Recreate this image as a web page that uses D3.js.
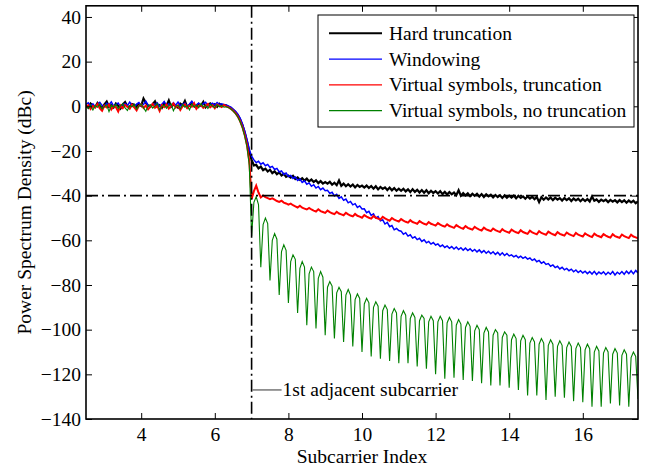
<!DOCTYPE html>
<html>
<head>
<meta charset="utf-8">
<script src="https://cdn.jsdelivr.net/npm/d3@7"></script>
<style>
  html, body { margin: 0; padding: 0; background: #fff; }
  svg { display: block; font-family: "Liberation Serif", "Times New Roman", Times, serif; }
</style>
</head>
<body>
<svg id="chart" width="651" height="468"></svg>
<script>
// Subcarrier grid shared by the sampled spectra (index = gridStart + i * gridStep)
const gridStart = 2.5;
const gridStep = 0.0625;

// PSD (dBc) — hard truncation
const hardTruncation = [
  0.4, -0.6, 1.2, 0.1, -0.3, 1.5, 0.2, -0.8, 0.9, 2.1,
  -0.2, 0.6, -0.5, 1.3, 0.3, -1.0, 0.8, 1.9, 0.0, -0.4,
  1.0, 0.7, -0.3, 1.1, 0.2, 3.5, 1.6, 0.4, -0.2, 0.9,
  2.2, -0.1, 0.5, -0.7, 1.4, 0.3, 2.6, -0.2, 0.8, 0.1,
  -0.6, 1.2, 0.4, 2.4, -0.3, 0.6, 1.8, 0.0, -0.5, 1.0,
  0.3, 2.0, -0.4, 0.7, 1.3, 0.1, 0.9, -0.2, 1.1, 0.4,
  0.6,
  0.3, -0.2, -0.7, -1.6, -2.6, -3.9, -5.9, -8.4, -11.8, -15.8, -20.6, -24.0,
  -26.5, -26.2, -27.8, -27.0, -28.6, -27.9, -29.2, -28.4, -29.9, -29.1, -30.4, -29.6, -31.0, -30.2, -31.6, -31.0,
  -31.9, -31.1, -32.5, -31.8, -32.9, -32.2, -33.3, -32.4, -33.6, -32.8, -33.9, -33.1, -34.4, -33.5, -34.6, -33.9,
  -34.6, -33.8, -35.1, -34.2, -35.3, -33.2, -35.6, -34.6, -35.8, -34.9, -35.9, -35.0, -36.3, -35.2, -36.1, -35.5,
  -36.4, -35.5, -36.6, -35.7, -36.9, -35.8, -37.2, -36.1, -37.0, -36.3, -37.5, -36.4, -37.6, -36.6, -37.8, -36.9,
  -37.8, -36.9, -38.1, -37.2, -38.4, -37.1, -38.3, -37.4, -38.6, -37.5, -38.7, -37.6, -38.9, -37.8, -38.8, -38.0,
  -39.0, -38.0, -39.3, -38.3, -39.5, -38.4, -39.4, -38.6, -39.8, -37.6, -40.0, -38.9, -39.9, -39.0, -40.2, -39.2,
  -40.1, -39.2, -40.4, -39.3, -40.6, -39.4, -40.3, -39.6, -40.8, -39.7, -40.6, -39.8, -41.0, -39.9, -40.9, -40.0,
  -40.9, -40.0, -41.2, -40.1, -41.0, -40.3, -41.4, -40.4, -41.3, -40.5, -41.6, -40.6, -42.9, -40.7, -41.8, -40.8,
  -41.7, -40.8, -42.0, -40.9, -41.8, -41.1, -42.2, -41.1, -42.0, -41.2, -42.4, -41.3, -42.1, -41.4, -42.5, -41.5,
  -42.4, -41.5, -42.6, -40.4, -42.3, -41.7, -42.8, -41.8, -42.5, -41.8, -42.9, -41.9, -42.7, -42.0, -43.0, -42.0,
  -42.9, -42.1, -43.2, -42.2, -43.0, -42.3, -43.4, -42.6
];

// PSD (dBc) — windowing
const windowing = [
  0.8, 1.6, 0.2, 1.1, -0.3, 0.9, 1.8, 0.4, -0.2, 1.3,
  0.6, 2.0, 0.1, 0.8, 1.5, -0.1, 0.7, 1.2, 0.3, 1.9,
  0.5, -0.4, 1.0, 1.7, 0.2, 0.8, 2.3, 0.4, -0.1, 1.2,
  0.6, 1.5, 0.0, 0.9, 2.1, 0.3, 1.1, -0.2, 1.6, 0.5,
  1.9, 0.2, 0.8, 1.4, -0.1, 1.0, 2.2, 0.4, 0.7, 1.5,
  0.1, 1.2, 1.8, 0.3, 0.9, 1.4, 0.6, 1.7, 0.8, 1.1,
  0.7,
  0.6, 0.1, -0.4, -1.3, -2.2, -3.5, -5.3, -7.8, -11.0, -14.9, -19.2, -22.3,
  -24.0, -25.2, -24.6, -25.9, -25.3, -26.6, -26.0, -27.4, -26.9, -28.3, -27.8, -29.4, -28.9, -30.5, -29.9, -31.4,
  -30.9, -32.3, -31.7, -33.2, -32.6, -34.1, -33.4, -34.9, -34.3, -35.8, -35.1, -36.6, -35.9, -37.3, -36.6, -37.8,
  -37.6, -39.0, -38.5, -40.1, -39.4, -41.2, -40.5, -42.1, -41.5, -43.2, -42.6, -44.1, -43.6, -45.3, -44.6, -46.0,
  -45.9, -47.6, -47.0, -48.8, -48.1, -50.0, -49.4, -51.3, -50.8, -52.7, -52.0, -53.9, -53.4, -55.3, -54.7, -55.6,
  -55.9, -57.3, -56.6, -58.1, -57.5, -59.0, -58.4, -59.7, -59.1, -60.5, -59.8, -61.1, -60.5, -61.7, -61.0, -62.1,
  -61.6, -62.8, -62.1, -63.2, -62.5, -63.6, -62.8, -63.9, -63.0, -64.1, -63.3, -64.4, -63.5, -64.6, -63.8, -64.9,
  -64.1, -65.2, -64.3, -65.5, -64.6, -65.8, -64.9, -66.0, -65.1, -66.3, -65.4, -66.6, -65.6, -66.8, -65.9, -67.0,
  -66.5, -67.4, -66.8, -67.8, -67.1, -68.1, -67.4, -68.4, -67.9, -69.0, -68.4, -69.6, -69.0, -70.3, -69.6, -70.8,
  -70.4, -71.6, -71.0, -72.2, -71.6, -72.8, -72.1, -73.2, -72.6, -73.6, -72.9, -74.1, -73.3, -74.4, -73.6, -74.6,
  -73.8, -74.9, -74.0, -75.1, -73.9, -75.3, -74.2, -75.0, -74.1, -75.4, -74.3, -75.2, -74.0, -75.5, -74.3, -75.1,
  -74.0, -75.2, -73.8, -74.9, -73.6, -75.0, -73.5, -74.6
];

// PSD (dBc) — virtual symbols with truncation
const virtualTruncation = [
  -0.4, 0.5, -1.2, 0.2, -0.6, 1.0, -0.9, -2.0, 0.3, -0.5,
  0.8, -1.4, 0.1, -0.3, -2.3, 0.4, -0.8, 0.6, -0.2, -1.1,
  0.7, -0.5, -1.8, 0.2, 0.9, -0.7, 0.3, -1.3, -0.1, 1.1,
  -0.6, 0.2, -2.1, 0.5, -0.4, 0.8, -1.0, 0.1, 1.3, -0.5,
  0.4, -1.6, 0.0, 0.9, -0.8, 0.3, -0.2, 1.4, -1.1, 0.2,
  0.6, -0.7, 0.1, 1.0, -0.4, 0.5, -0.9, 0.8, 0.2, -0.3,
  0.6,
  0.0, -0.5, -1.1, -2.0, -3.1, -4.6, -6.6, -9.3, -12.8, -17.4, -24.5, -41.5,
  -38.0, -35.5, -38.6, -40.8, -39.9, -40.7, -41.1, -41.6, -41.2, -41.8, -42.4, -42.8, -42.3, -43.1, -43.5, -44.0,
  -43.6, -44.3, -44.8, -45.3, -44.5, -45.4, -45.8, -46.2, -45.5, -46.2, -46.7, -47.1, -46.1, -46.9, -47.3, -47.7,
  -46.7, -47.4, -47.9, -48.3, -47.2, -48.0, -48.4, -48.8, -47.7, -48.4, -48.9, -49.3, -48.2, -49.0, -49.4, -49.9,
  -48.7, -49.4, -49.9, -50.3, -49.1, -49.9, -50.3, -50.7, -49.5, -50.2, -50.7, -51.2, -50.0, -50.7, -51.2, -51.6,
  -50.5, -51.2, -51.7, -52.1, -51.0, -51.8, -52.2, -52.6, -51.4, -52.1, -52.6, -53.0, -51.8, -52.6, -53.0, -53.4,
  -52.3, -53.0, -53.5, -53.9, -52.8, -53.6, -54.0, -54.4, -53.2, -53.9, -54.4, -54.8, -53.6, -54.4, -54.8, -55.2,
  -54.0, -54.7, -55.2, -55.6, -54.3, -55.1, -55.5, -55.9, -54.7, -55.4, -55.9, -56.3, -55.0, -55.8, -56.2, -56.6,
  -55.2, -55.9, -56.4, -56.8, -55.5, -56.3, -56.7, -57.1, -55.7, -56.4, -56.9, -57.3, -55.9, -56.7, -57.1, -57.5,
  -56.1, -56.8, -57.3, -57.7, -56.3, -57.1, -57.5, -57.9, -56.5, -57.2, -57.7, -58.1, -56.7, -57.5, -57.9, -58.3,
  -56.9, -57.6, -58.1, -58.5, -57.0, -57.8, -58.2, -58.6, -57.2, -57.9, -58.4, -58.8, -57.3, -58.1, -58.5, -58.9,
  -57.4, -58.1, -58.6, -59.0, -57.5, -58.3, -58.7, -59.1
];

// PSD (dBc) — virtual symbols without truncation: in-band part up to subcarrier 7 on the grid
const virtualNoTruncMain = [
  0.2, -0.9, 0.6, -1.7, 0.3, -0.4, 1.1, -1.2, 0.0, 0.7,
  -2.4, 0.5, -0.3, 0.9, -1.0, 0.2, 1.2, -0.7, -1.9, 0.4,
  -0.2, 0.8, -1.3, 0.1, 1.0, -0.6, -2.2, 0.3, 0.7, -0.8,
  0.2, 1.3, -1.5, -0.1, 0.6, -0.9, 0.4, 1.1, -2.0, 0.0,
  0.5, -1.1, 0.8, -0.4, 0.3, -1.6, 1.0, -0.2, 0.6, -0.7,
  1.2, -0.3, 0.4, -1.0, 0.9, 0.1, -0.5, 0.7, -0.2, 0.3,
  -0.4,
  -0.2, -0.6, -1.2, -2.2, -3.3, -4.8, -6.9, -9.6, -13.3, -18.2, -26.5, -58.0
];

// Out-of-band sidelobes: nulls every quarter subcarrier from 7.25 to 17.5
const virtualNoTruncNulls = [
  -72, -78, -84.5, -88, -92.5, -98, -99.5, -102.5, -104, -105.5,
  -107.5, -110, -112, -113, -114, -115, -115, -116.5, -117.5, -120,
  -122, -121.5, -122.5, -123, -124, -125, -125, -126, -127, -129.5,
  -129.5, -131.5, -130, -130.5, -132, -132.5, -134.5, -134.5, -133, -134,
  -134.5, -131
];

// Sidelobe samples between consecutive nulls (rising shoulder, top, falling shoulder)
const virtualNoTruncLobes = [
  [-43, -40.5, -44], [-53, -50, -52.5], [-60, -57, -59.5], [-65, -62, -64.5],
  [-69.5, -66.5, -68.5], [-72.5, -69.5, -72], [-75, -72, -74], [-77, -74, -76.5],
  [-81, -78.5, -80.5], [-83.5, -81, -83], [-84.5, -82, -84.5], [-86.5, -84, -86],
  [-88.5, -86, -88], [-90, -87.5, -89.5], [-91.5, -89, -91], [-93, -90.5, -92.5],
  [-94, -91.5, -93.5], [-95, -92.5, -94.5], [-96, -93.5, -95], [-96.5, -94, -96],
  [-96.5, -94, -96], [-97, -94.5, -96.5], [-98, -95.5, -97.5], [-99, -96.5, -98.5],
  [-100.5, -98, -100], [-101.5, -99, -101], [-102.5, -100, -101.5], [-103.5, -101, -102.5],
  [-104.5, -102, -104], [-105, -102.5, -104.5], [-106, -103.5, -105.5], [-106.5, -104, -106],
  [-107, -104.5, -106.5], [-107.5, -105, -107], [-108, -105.5, -107.5], [-108.5, -106, -108],
  [-109, -106.5, -108.5], [-110, -107.5, -109.5], [-110.5, -108, -110], [-111, -108.5, -110.5],
  [-111.5, -109, -111], [-112.5, -110, -112]
];

const seriesNames = ["Hard truncation", "Windowing", "Virtual symbols, truncation", "Virtual symbols, no truncation"];
const seriesColors = ["#000000", "#0000ff", "#ff0000", "#008000"];
const seriesWidths = [2.2, 1.5, 2.0, 1.1];

const xTicks = [4, 6, 8, 10, 12, 14, 16];
const yTicks = [-140, -120, -100, -80, -60, -40, -20, 0, 20, 40];
const xDomain = [2.5, 17.5];
const yDomain = [-140, 45];

// Marker lines: first adjacent subcarrier edge and the -40 dBc level
const adjacentEdge = 7;
const limitLevel = -40;
const annotation = { x: 7, y: -127, text: "1st adjacent subcarrier" };

const xLabel = "Subcarrier Index";
const yLabel = "Power Spectrum Density (dBc)";

// ---- layout ----
const plot = { left: 86, right: 638, top: 5.8, bottom: 419 };
const fontSize = 19.5;

const svg = d3.select("#chart");
const x = d3.scaleLinear().domain(xDomain).range([plot.left, plot.right]);
const y = d3.scaleLinear().domain(yDomain).range([plot.bottom, plot.top]);

function onGrid(values) {
  return values.map((v, i) => [gridStart + i * gridStep, v]);
}

const noTrunc = onGrid(virtualNoTruncMain);
virtualNoTruncLobes.forEach((lobe, k) => {
  const x0 = adjacentEdge + k * 0.25;
  lobe.forEach((v, j) => noTrunc.push([x0 + (j + 1) * gridStep, v]));
  noTrunc.push([x0 + 0.25, virtualNoTruncNulls[k]]);
});

const series = [
  onGrid(hardTruncation),
  onGrid(windowing),
  onGrid(virtualTruncation),
  noTrunc
];

svg.append("defs").append("clipPath").attr("id", "plot-clip")
  .append("rect")
  .attr("x", plot.left).attr("y", plot.top)
  .attr("width", plot.right - plot.left).attr("height", plot.bottom - plot.top);

const line = d3.line().x(d => x(d[0])).y(d => y(d[1]));

const curves = svg.append("g").attr("clip-path", "url(#plot-clip)");
series.forEach((pts, i) => {
  curves.append("path")
    .datum(pts)
    .attr("d", line)
    .attr("fill", "none")
    .attr("stroke", seriesColors[i])
    .attr("stroke-width", seriesWidths[i])
    .attr("stroke-linejoin", "miter");
});

// dash-dot marker lines
curves.append("line")
  .attr("x1", x(adjacentEdge)).attr("x2", x(adjacentEdge))
  .attr("y1", y(yDomain[1])).attr("y2", y(yDomain[0]))
  .attr("stroke", "#000").attr("stroke-width", 1.6)
  .attr("stroke-dasharray", "12,4,2,4");
curves.append("line")
  .attr("x1", x(xDomain[0])).attr("x2", x(xDomain[1]))
  .attr("y1", y(limitLevel)).attr("y2", y(limitLevel))
  .attr("stroke", "#000").attr("stroke-width", 1.6)
  .attr("stroke-dasharray", "12,4,2,4");

// axes with inward ticks on all four sides
const tickLen = 6;
const gx = svg.append("g").attr("transform", `translate(0,${plot.bottom})`)
  .call(d3.axisBottom(x).tickValues(xTicks).tickSizeInner(-tickLen).tickSizeOuter(0).tickPadding(8));
const gy = svg.append("g").attr("transform", `translate(${plot.left},0)`)
  .call(d3.axisLeft(y).tickValues(yTicks).tickSizeInner(-tickLen).tickSizeOuter(0).tickPadding(5));
const gt = svg.append("g").attr("transform", `translate(0,${plot.top})`)
  .call(d3.axisTop(x).tickValues(xTicks).tickSizeInner(-tickLen).tickSizeOuter(0).tickFormat(""));
const gr = svg.append("g").attr("transform", `translate(${plot.right},0)`)
  .call(d3.axisRight(y).tickValues(yTicks).tickSizeInner(-tickLen).tickSizeOuter(0).tickFormat(""));

[gx, gy, gt, gr].forEach(g => {
  g.select(".domain").remove();
  g.selectAll(".tick line").attr("stroke", "#000").attr("stroke-width", 1);
  g.selectAll("text")
    .attr("fill", "#000")
    .style("font-family", "'Liberation Serif', 'Times New Roman', serif")
    .style("font-size", fontSize + "px");
});

// box
svg.append("rect")
  .attr("x", plot.left).attr("y", plot.top)
  .attr("width", plot.right - plot.left).attr("height", plot.bottom - plot.top)
  .attr("fill", "none").attr("stroke", "#000").attr("stroke-width", 1.6);

// axis titles
svg.append("text")
  .attr("x", (plot.left + plot.right) / 2).attr("y", 463)
  .attr("text-anchor", "middle")
  .style("font-size", fontSize + "px")
  .text(xLabel);
svg.append("text")
  .attr("transform", `translate(31,${(plot.top + plot.bottom) / 2}) rotate(-90)`)
  .attr("text-anchor", "middle")
  .style("font-size", fontSize + "px")
  .text(yLabel);

// annotation
const ax = x(annotation.x), ay = y(annotation.y);
svg.append("line")
  .attr("x1", ax + 1).attr("x2", ax + 30).attr("y1", ay).attr("y2", ay)
  .attr("stroke", "#333").attr("stroke-width", 1);
svg.append("text")
  .attr("x", ax + 31).attr("y", ay + 6)
  .style("font-size", fontSize + "px")
  .text(annotation.text);

// legend
const legend = svg.append("g").attr("transform", "translate(318,15)");
legend.append("rect")
  .attr("width", 316).attr("height", 112)
  .attr("fill", "#fff").attr("stroke", "#000").attr("stroke-width", 1);
seriesNames.forEach((name, i) => {
  const ly = 18.3 + i * 25.8;
  legend.append("line")
    .attr("x1", 11).attr("x2", 64).attr("y1", ly).attr("y2", ly)
    .attr("stroke", seriesColors[i]).attr("stroke-width", i === 0 ? 2 : 1.2);
  legend.append("text")
    .attr("x", 71).attr("y", ly + 6.4)
    .style("font-size", fontSize + "px")
    .text(name);
});
</script>
</body>
</html>
